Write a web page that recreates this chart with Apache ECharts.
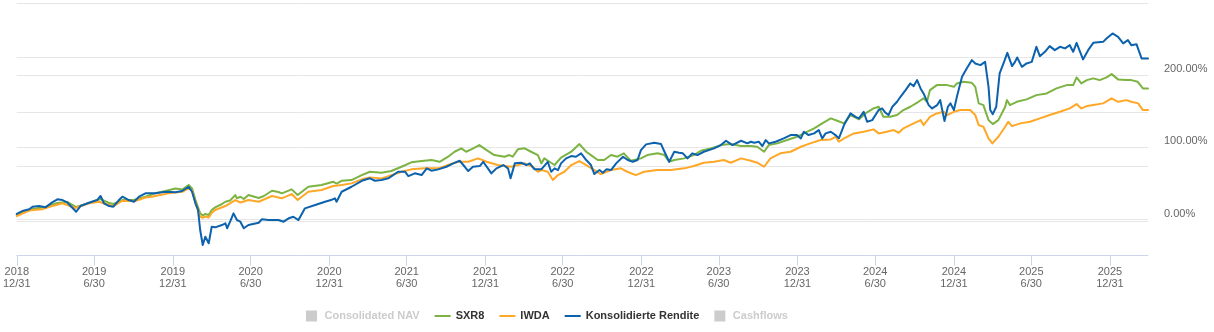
<!DOCTYPE html>
<html>
<head>
<meta charset="utf-8">
<script src="https://cdn.jsdelivr.net/npm/echarts@6/dist/echarts.min.js"></script>
<style>
  html, body { margin: 0; padding: 0; background: #ffffff; }
  #chart { width: 1214px; height: 332px; }
</style>
</head>
<body>
<div id="chart"></div>
<script>
// Cumulative return (%) of the portfolio and two benchmark ETFs.
const sxr8 = [
  ['2018-12-31', 6.4], ['2019-02-06', 14.7], ['2019-03-08', 17.4], ['2019-04-05', 23.0], ['2019-04-28', 24.4],
  ['2019-05-19', 17.4], ['2019-06-18', 23.0], ['2019-07-15', 28.5], ['2019-08-04', 23.0], ['2019-08-14', 21.6],
  ['2019-09-04', 27.1], ['2019-10-01', 27.1], ['2019-10-28', 31.7], ['2019-11-20', 36.4], ['2019-12-14', 39.6],
  ['2020-01-06', 43.0], ['2020-01-22', 41.7], ['2020-02-06', 47.9], ['2020-02-14', 43.3], ['2020-02-22', 27.1],
  ['2020-03-04', 8.7], ['2020-03-10', 5.7], ['2020-03-16', 7.8], ['2020-03-24', 6.4], ['2020-03-31', 13.3],
  ['2020-04-08', 17.0], ['2020-04-24', 21.6], ['2020-05-02', 24.8], ['2020-05-13', 26.4], ['2020-05-25', 34.0],
  ['2020-05-29', 29.5], ['2020-06-06', 31.7], ['2020-06-14', 28.5], ['2020-06-25', 34.0], ['2020-07-19', 30.0],
  ['2020-07-31', 32.7], ['2020-08-19', 40.0], ['2020-09-03', 38.2], ['2020-09-11', 36.4], ['2020-10-04', 41.9],
  ['2020-10-18', 34.0], ['2020-11-12', 45.5], ['2020-12-13', 47.9], ['2021-01-09', 52.5], ['2021-01-17', 50.0],
  ['2021-01-29', 53.8], ['2021-02-21', 54.8], ['2021-03-17', 61.7], ['2021-04-05', 66.3], ['2021-05-02', 64.9],
  ['2021-05-25', 67.3], ['2021-06-18', 73.2], ['2021-07-11', 79.3], ['2021-08-04', 81.1], ['2021-08-27', 82.5],
  ['2021-09-15', 80.1], ['2021-10-05', 87.1], ['2021-10-20', 94.0], ['2021-11-05', 98.7], ['2021-11-16', 94.0],
  ['2021-11-28', 97.3], ['2021-12-17', 103.2], ['2022-01-03', 96.3], ['2022-01-21', 89.4], ['2022-02-14', 87.1],
  ['2022-02-25', 89.4], ['2022-03-05', 87.1], ['2022-03-17', 97.3], ['2022-04-02', 98.7], ['2022-04-17', 94.0],
  ['2022-05-03', 89.4], ['2022-05-11', 77.9], ['2022-05-18', 84.8], ['2022-05-30', 80.1], ['2022-06-11', 75.6],
  ['2022-06-26', 85.9], ['2022-07-20', 94.0], ['2022-08-08', 104.6], ['2022-08-24', 94.0], ['2022-09-04', 89.4],
  ['2022-09-20', 82.5], ['2022-10-05', 82.5], ['2022-10-21', 89.4], ['2022-11-05', 87.1], ['2022-11-20', 91.8],
  ['2022-12-06', 81.5], ['2022-12-30', 84.8], ['2023-01-14', 89.4], ['2023-02-07', 91.8], ['2023-02-23', 89.4],
  ['2023-03-06', 80.1], ['2023-03-18', 82.5], ['2023-04-10', 84.8], ['2023-05-03', 89.4], ['2023-05-19', 95.4],
  ['2023-06-11', 98.7], ['2023-07-05', 103.2], ['2023-07-28', 104.6], ['2023-08-21', 101.9], ['2023-09-13', 101.9],
  ['2023-09-28', 100.9], ['2023-10-14', 94.0], ['2023-10-25', 103.2], ['2023-11-14', 105.6], ['2023-12-07', 110.2],
  ['2023-12-30', 114.7], ['2024-01-15', 119.4], ['2024-02-08', 126.4], ['2024-02-27', 133.3], ['2024-03-18', 140.2],
  ['2024-04-02', 136.9], ['2024-04-18', 133.3], ['2024-05-03', 144.8], ['2024-05-23', 138.8], ['2024-06-07', 147.1],
  ['2024-06-26', 154.0], ['2024-07-08', 156.3], ['2024-07-19', 142.4], ['2024-08-04', 142.4], ['2024-08-20', 144.8],
  ['2024-09-04', 151.7], ['2024-09-20', 156.3], ['2024-10-09', 163.2], ['2024-10-21', 167.9], ['2024-10-29', 163.2],
  ['2024-11-05', 179.4], ['2024-11-21', 186.3], ['2024-12-07', 186.3], ['2024-12-15', 186.3], ['2024-12-31', 183.9],
  ['2025-01-07', 188.6], ['2025-01-22', 190.9], ['2025-02-11', 189.5], ['2025-02-19', 183.9], ['2025-02-27', 161.0],
  ['2025-03-10', 158.6], ['2025-03-22', 137.8], ['2025-04-01', 132.3], ['2025-04-14', 137.8], ['2025-04-30', 156.3],
  ['2025-05-04', 165.5], ['2025-05-11', 158.6], ['2025-05-27', 163.2], ['2025-06-19', 166.5], ['2025-07-12', 172.4],
  ['2025-08-05', 174.8], ['2025-08-28', 181.7], ['2025-09-21', 186.3], ['2025-10-06', 186.3], ['2025-10-14', 196.9],
  ['2025-10-25', 188.6], ['2025-11-07', 193.2], ['2025-11-22', 195.6], ['2025-12-07', 193.2], ['2025-12-23', 196.9],
  ['2026-01-04', 201.5], ['2026-01-19', 194.2], ['2026-02-07', 193.2], ['2026-02-19', 193.2], ['2026-03-06', 190.9],
  ['2026-03-18', 181.7], ['2026-03-30', 181.7]
];

const iwda = [
  ['2018-12-31', 5.0], ['2019-01-29', 12.6], ['2019-02-28', 14.3], ['2019-03-24', 18.8], ['2019-04-17', 22.6],
  ['2019-05-17', 16.1], ['2019-06-18', 22.6], ['2019-07-11', 24.8], ['2019-08-04', 20.2], ['2019-08-14', 18.8],
  ['2019-09-04', 26.2], ['2019-10-04', 25.7], ['2019-10-28', 30.6], ['2019-11-12', 31.7], ['2019-12-21', 36.4],
  ['2020-01-22', 38.6], ['2020-02-06', 43.3], ['2020-02-14', 40.3], ['2020-02-22', 22.6], ['2020-03-04', 4.0],
  ['2020-03-10', 2.5], ['2020-03-16', 4.3], ['2020-03-24', 2.9], ['2020-03-31', 9.1], ['2020-04-08', 13.3],
  ['2020-05-02', 18.8], ['2020-05-25', 27.1], ['2020-06-06', 23.7], ['2020-06-25', 27.1], ['2020-07-19', 24.8],
  ['2020-08-19', 32.7], ['2020-09-11', 29.5], ['2020-10-04', 35.4], ['2020-10-18', 27.1], ['2020-11-12', 38.6],
  ['2020-12-13', 41.0], ['2021-01-09', 46.5], ['2021-01-29', 47.9], ['2021-02-21', 50.2], ['2021-03-17', 55.8],
  ['2021-04-05', 58.5], ['2021-05-02', 56.9], ['2021-05-10', 58.5], ['2021-06-18', 66.3], ['2021-07-11', 69.6],
  ['2021-08-11', 71.0], ['2021-09-12', 71.0], ['2021-10-05', 75.6], ['2021-10-28', 80.1], ['2021-11-21', 80.1],
  ['2021-12-14', 84.8], ['2022-01-03', 80.1], ['2022-01-29', 75.6], ['2022-03-02', 73.2], ['2022-04-02', 77.9],
  ['2022-04-21', 73.2], ['2022-05-03', 66.3], ['2022-05-11', 68.6], ['2022-05-26', 66.3], ['2022-06-07', 54.8],
  ['2022-06-19', 61.7], ['2022-07-04', 66.3], ['2022-07-20', 75.6], ['2022-08-08', 81.1], ['2022-08-24', 75.6],
  ['2022-09-12', 68.6], ['2022-09-27', 63.1], ['2022-10-21', 68.6], ['2022-11-13', 71.0], ['2022-11-28', 66.3],
  ['2022-12-18', 61.7], ['2023-01-06', 66.3], ['2023-02-07', 68.6], ['2023-03-10', 68.6], ['2023-04-10', 71.0],
  ['2023-05-03', 74.2], ['2023-05-26', 78.8], ['2023-06-19', 80.1], ['2023-07-12', 82.5], ['2023-07-28', 78.8],
  ['2023-08-21', 84.8], ['2023-09-13', 81.5], ['2023-09-28', 78.8], ['2023-10-14', 73.2], ['2023-10-29', 84.8],
  ['2023-11-21', 91.8], ['2023-12-15', 94.0], ['2024-01-08', 100.9], ['2024-01-30', 105.6], ['2024-02-23', 110.2],
  ['2024-03-18', 111.1], ['2024-03-29', 114.7], ['2024-04-06', 107.8], ['2024-04-18', 112.5], ['2024-05-11', 119.4],
  ['2024-06-03', 121.7], ['2024-06-26', 125.0], ['2024-07-08', 119.4], ['2024-07-27', 121.7], ['2024-08-12', 124.0],
  ['2024-08-24', 120.3], ['2024-09-04', 126.4], ['2024-09-28', 133.3], ['2024-10-14', 137.8], ['2024-10-21', 130.9],
  ['2024-11-05', 142.4], ['2024-11-21', 147.1], ['2024-12-07', 149.3], ['2024-12-15', 144.8], ['2024-12-31', 149.3],
  ['2025-01-15', 151.7], ['2025-02-07', 151.7], ['2025-02-19', 144.8], ['2025-02-27', 130.9], ['2025-03-10', 128.6],
  ['2025-03-22', 112.5], ['2025-03-31', 105.6], ['2025-04-14', 114.7], ['2025-04-30', 128.6], ['2025-05-07', 135.5],
  ['2025-05-16', 129.5], ['2025-06-04', 133.3], ['2025-06-27', 135.5], ['2025-07-20', 140.2], ['2025-08-12', 144.8],
  ['2025-09-05', 149.3], ['2025-09-28', 154.0], ['2025-10-14', 160.0], ['2025-10-25', 154.0], ['2025-11-07', 157.2],
  ['2025-11-22', 158.6], ['2025-12-15', 161.0], ['2026-01-04', 167.9], ['2026-01-19', 163.2], ['2026-02-07', 165.5],
  ['2026-02-19', 163.2], ['2026-03-07', 161.0], ['2026-03-18', 151.7], ['2026-03-30', 151.7]
];

const konsolidierteRendite = [
  ['2018-12-31', 7.8], ['2019-01-13', 11.9], ['2019-01-29', 14.3], ['2019-02-06', 17.9], ['2019-02-21', 18.8],
  ['2019-03-08', 17.0], ['2019-03-24', 23.9], ['2019-04-05', 28.1], ['2019-04-17', 27.1], ['2019-04-28', 23.9],
  ['2019-05-06', 18.8], ['2019-05-19', 10.9], ['2019-05-29', 18.8], ['2019-06-18', 23.4], ['2019-07-07', 27.1],
  ['2019-07-15', 32.7], ['2019-07-23', 22.6], ['2019-08-04', 18.8], ['2019-08-14', 17.9], ['2019-08-27', 27.1],
  ['2019-09-04', 31.7], ['2019-09-19', 27.1], ['2019-10-01', 24.8], ['2019-10-13', 31.7], ['2019-10-28', 36.4],
  ['2019-11-20', 36.4], ['2019-12-14', 38.6], ['2020-01-06', 37.8], ['2020-01-22', 39.6], ['2020-02-06', 45.5],
  ['2020-02-14', 38.6], ['2020-02-22', 22.6], ['2020-02-28', 13.3], ['2020-03-04', -14.4], ['2020-03-10', -35.2],
  ['2020-03-16', -23.7], ['2020-03-20', -25.5], ['2020-03-24', -32.8], ['2020-03-31', -9.8], ['2020-04-08', -10.7],
  ['2020-04-24', -7.5], ['2020-05-02', -5.1], ['2020-05-06', -12.0], ['2020-05-13', -2.9], ['2020-05-21', 8.7],
  ['2020-05-29', -0.6], ['2020-06-06', -2.9], ['2020-06-14', -12.0], ['2020-06-25', -7.5], ['2020-07-19', -4.3],
  ['2020-07-26', 0.4], ['2020-08-11', -0.6], ['2020-09-03', -0.6], ['2020-09-15', -2.9], ['2020-09-27', 1.8],
  ['2020-10-08', 4.0], ['2020-10-20', -0.6], ['2020-11-04', 15.6], ['2020-11-28', 20.2], ['2020-12-21', 24.8],
  ['2021-01-04', 27.1], ['2021-01-13', 29.5], ['2021-01-17', 24.8], ['2021-01-29', 38.6], ['2021-02-21', 45.5],
  ['2021-03-17', 53.8], ['2021-04-05', 57.2], ['2021-04-17', 53.8], ['2021-05-02', 54.8], ['2021-05-18', 57.2],
  ['2021-06-10', 66.3], ['2021-06-26', 66.3], ['2021-07-04', 60.3], ['2021-07-19', 64.1], ['2021-08-04', 61.7],
  ['2021-08-16', 71.0], ['2021-08-27', 67.7], ['2021-09-12', 69.6], ['2021-10-01', 73.2], ['2021-10-17', 77.9],
  ['2021-11-01', 81.5], ['2021-11-13', 73.2], ['2021-11-21', 67.3], ['2021-12-02', 73.2], ['2021-12-18', 74.2],
  ['2021-12-26', 80.1], ['2022-01-06', 71.0], ['2022-01-14', 64.1], ['2022-01-26', 71.0], ['2022-02-11', 75.6],
  ['2022-02-22', 71.0], ['2022-02-28', 57.2], ['2022-03-10', 77.9], ['2022-03-25', 78.8], ['2022-04-06', 75.6],
  ['2022-04-14', 77.9], ['2022-04-25', 69.6], ['2022-05-11', 69.6], ['2022-05-26', 80.1], ['2022-06-03', 66.3],
  ['2022-06-11', 71.0], ['2022-06-19', 68.6], ['2022-06-26', 77.9], ['2022-07-08', 84.8], ['2022-07-20', 88.0],
  ['2022-07-31', 87.1], ['2022-08-12', 91.8], ['2022-08-24', 82.5], ['2022-09-04', 75.6], ['2022-09-12', 63.1],
  ['2022-09-24', 68.6], ['2022-10-02', 64.9], ['2022-10-10', 69.6], ['2022-10-21', 68.6], ['2022-11-02', 77.9],
  ['2022-11-18', 87.1], ['2022-11-29', 82.5], ['2022-12-11', 80.1], ['2022-12-22', 82.5], ['2022-12-30', 96.3],
  ['2023-01-11', 104.2], ['2023-01-30', 106.4], ['2023-02-15', 104.6], ['2023-02-23', 94.0], ['2023-03-06', 80.1],
  ['2023-03-18', 94.0], ['2023-03-29', 92.6], ['2023-04-07', 91.8], ['2023-04-18', 84.8], ['2023-04-29', 91.8],
  ['2023-05-11', 89.4], ['2023-05-26', 94.0], ['2023-06-19', 98.7], ['2023-07-05', 103.2], ['2023-07-17', 109.2],
  ['2023-08-01', 103.2], ['2023-08-21', 109.2], ['2023-09-05', 105.6], ['2023-09-13', 107.8], ['2023-09-21', 106.4],
  ['2023-09-25', 105.6], ['2023-10-02', 107.8], ['2023-10-10', 101.9], ['2023-10-18', 110.2], ['2023-10-25', 105.6],
  ['2023-11-10', 107.8], ['2023-11-29', 112.5], ['2023-12-15', 117.1], ['2023-12-30', 117.1], ['2024-01-08', 112.5],
  ['2024-01-15', 121.7], ['2024-01-26', 117.1], ['2024-02-08', 119.4], ['2024-02-19', 124.0], ['2024-02-27', 112.5],
  ['2024-03-06', 119.4], ['2024-03-18', 121.7], ['2024-03-29', 117.1], ['2024-04-06', 112.5], ['2024-04-18', 130.9],
  ['2024-05-03', 147.1], ['2024-05-15', 142.4], ['2024-05-23', 140.2], ['2024-06-03', 149.3], ['2024-06-11', 135.5],
  ['2024-06-23', 137.8], ['2024-07-08', 151.7], ['2024-07-16', 154.0], ['2024-07-24', 147.9], ['2024-07-31', 144.8],
  ['2024-08-09', 156.3], ['2024-08-20', 163.2], ['2024-08-28', 170.1], ['2024-09-09', 179.4], ['2024-09-20', 188.6],
  ['2024-09-28', 184.9], ['2024-10-06', 193.2], ['2024-10-14', 181.7], ['2024-10-21', 174.8], ['2024-11-02', 158.6],
  ['2024-11-10', 154.0], ['2024-11-22', 158.6], ['2024-11-29', 165.5], ['2024-12-09', 136.5], ['2024-12-17', 156.3],
  ['2024-12-23', 161.0], ['2024-12-31', 151.7], ['2025-01-07', 170.1], ['2025-01-19', 197.8], ['2025-01-30', 209.4],
  ['2025-02-11', 220.9], ['2025-02-19', 216.3], ['2025-03-03', 214.0], ['2025-03-14', 218.5], ['2025-03-18', 216.7],
  ['2025-03-22', 183.9], ['2025-03-26', 151.7], ['2025-04-01', 146.1], ['2025-04-09', 156.3], ['2025-04-17', 202.5],
  ['2025-04-26', 216.3], ['2025-05-05', 231.0], ['2025-05-16', 212.6], ['2025-05-23', 218.5], ['2025-05-28', 224.6],
  ['2025-06-08', 211.6], ['2025-06-19', 216.3], ['2025-07-01', 218.5], ['2025-07-12', 239.3], ['2025-07-20', 226.4],
  ['2025-08-01', 232.4], ['2025-08-12', 240.3], ['2025-08-24', 234.7], ['2025-09-05', 239.3], ['2025-09-17', 237.1],
  ['2025-09-28', 241.6], ['2025-10-06', 232.4], ['2025-10-14', 244.8], ['2025-10-29', 221.9], ['2025-11-10', 234.7],
  ['2025-11-22', 244.8], ['2025-12-15', 246.2], ['2025-12-23', 250.9], ['2026-01-06', 257.8], ['2026-01-19', 253.1],
  ['2026-01-31', 244.0], ['2026-02-11', 248.6], ['2026-02-19', 241.6], ['2026-03-03', 243.0], ['2026-03-15', 223.2],
  ['2026-03-30', 223.2]
];

// Half-yearly ticks on the date axis
const tickDates = [
  '2018-12-31', '2019-06-30', '2019-12-31', '2020-06-30', '2020-12-31', '2021-06-30', '2021-12-31',
  '2022-06-30', '2022-12-31', '2023-06-30', '2023-12-31', '2024-06-30', '2024-12-31', '2025-06-30', '2025-12-31'
];

const xStart = '2018-12-31';
const xEnd = '2026-03-30';

const FONT = '"Liberation Sans", Arial, Helvetica, sans-serif';
const squareIcon = 'path://M0 0H10V10H0Z';
const lineIcon = 'path://M0 0H16V2H0Z';

// dates are placed on a numeric (millisecond) axis so the half-year ticks can be pinned exactly
const toTime = d => echarts.time.parse(d).getTime();
const withTime = rows => rows.map(([d, v]) => [toTime(d), v]);
const tickValues = tickDates.map(toTime);

const chart = echarts.init(document.getElementById('chart'), null, { renderer: 'canvas' });

const lineSeries = (name, data, color) => ({
  name, type: 'line', data: withTime(data), yAxisIndex: 0,
  symbol: 'none', showSymbol: false, smooth: false,
  lineStyle: { width: 2, color, join: 'round', cap: 'round' },
  itemStyle: { color },
  emphasis: { disabled: true }
});

chart.setOption({
  animation: false,
  textStyle: { fontFamily: FONT },
  grid: { left: 14, right: 66, top: 3, bottom: 76.5, containLabel: false },
  legend: {
    left: 301, top: 305.5, padding: 5,
    itemWidth: 16, itemHeight: 11, itemGap: 15,
    textStyle: { fontFamily: FONT, fontSize: 11, fontWeight: 'bold', color: '#333333' },
    inactiveColor: '#cccccc',
    inactiveBorderColor: '#cccccc',
    selected: { 'Consolidated NAV': false, 'Cashflows': false },
    data: [
      { name: 'Consolidated NAV', icon: squareIcon },
      { name: 'SXR8', icon: lineIcon },
      { name: 'IWDA', icon: lineIcon },
      { name: 'Konsolidierte Rendite', icon: lineIcon },
      { name: 'Cashflows', icon: squareIcon }
    ]
  },
  xAxis: {
    type: 'value',
    min: toTime(xStart), max: toTime(xEnd),
    axisLine: { show: true, onZero: false, lineStyle: { color: '#ccd6eb', width: 1 } },
    axisTick: { show: true, length: 10, customValues: tickValues, lineStyle: { color: '#ccd6eb', width: 1 } },
    axisLabel: {
      customValues: tickValues,
      margin: 10,
      fontFamily: FONT, fontSize: 11, lineHeight: 12, color: '#666666',
      showMinLabel: true, showMaxLabel: true,
      formatter: v => echarts.time.format(v, '{yyyy}\n{M}/{d}', false)
    },
    splitLine: { show: false }
  },
  yAxis: [
    {
      type: 'value', position: 'right',
      min: -49.7, max: 300, minInterval: 100, maxInterval: 100,
      axisLine: { show: false }, axisTick: { show: false },
      axisLabel: {
        showMinLabel: false, showMaxLabel: false,
        margin: 16, verticalAlign: 'bottom',
        fontFamily: FONT, fontSize: 11, lineHeight: 12, color: '#666666',
        formatter: v => v.toFixed(2) + '%'
      },
      splitLine: { show: true, showMinLine: false, lineStyle: { color: '#e6e6e6', width: 1 } }
    },
    {
      type: 'value', position: 'left',
      min: -0.633, max: 4, minInterval: 1, maxInterval: 1,
      axisLine: { show: false }, axisTick: { show: false }, axisLabel: { show: false },
      splitLine: { show: true, showMinLine: false, lineStyle: { color: '#e6e6e6', width: 1 } }
    }
  ],
  series: [
    { name: 'Consolidated NAV', type: 'line', yAxisIndex: 1, data: [], symbol: 'none',
      itemStyle: { color: '#cccccc' }, lineStyle: { color: '#cccccc' } },
    lineSeries('SXR8', sxr8, '#7cb342'),
    lineSeries('IWDA', iwda, '#ffa726'),
    lineSeries('Konsolidierte Rendite', konsolidierteRendite, '#0d62ad'),
    { name: 'Cashflows', type: 'line', yAxisIndex: 1, data: [], symbol: 'none',
      itemStyle: { color: '#cccccc' }, lineStyle: { color: '#cccccc' } }
  ]
});
</script>
</body>
</html>
